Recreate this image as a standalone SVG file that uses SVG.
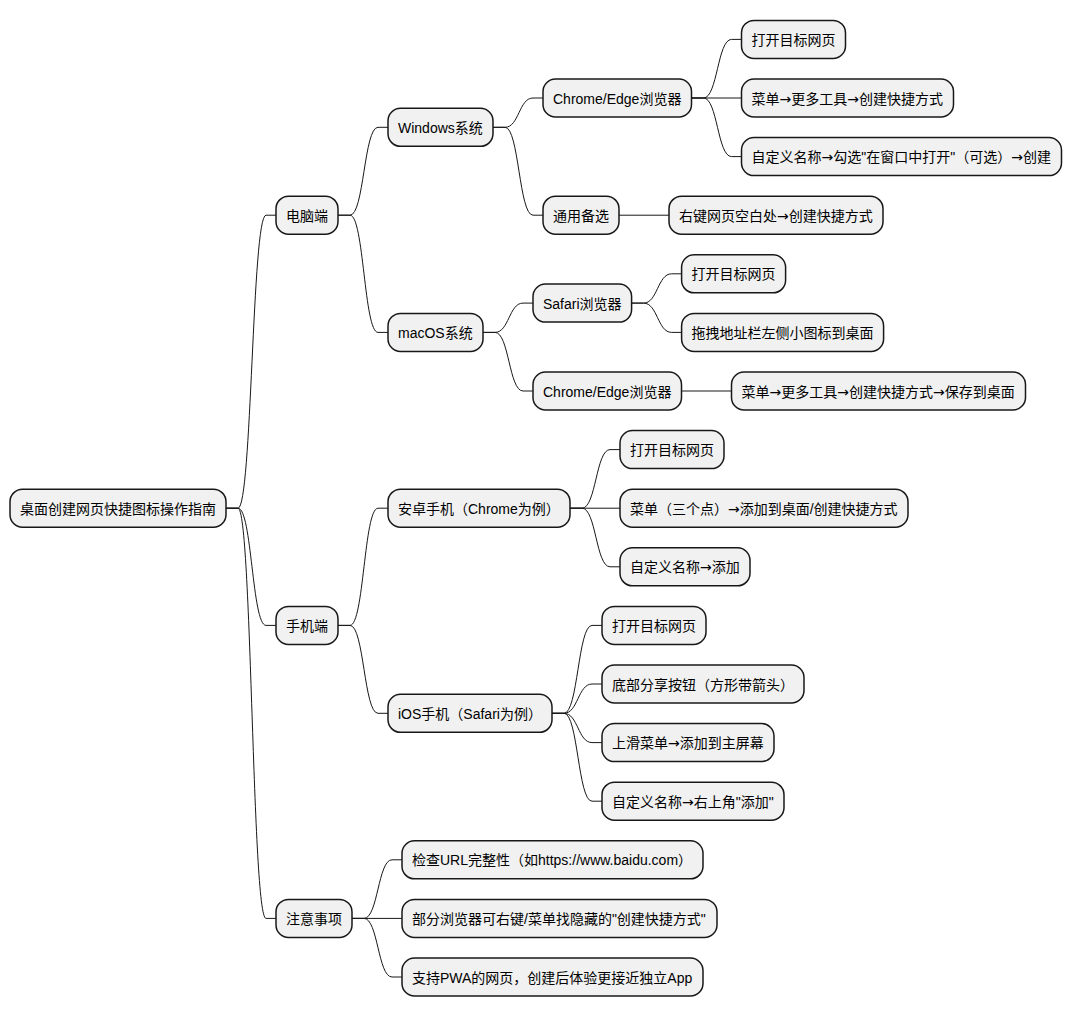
<svg xmlns="http://www.w3.org/2000/svg" width="1072" height="1017" viewBox="0 0 1072 1017">
<style>
.n rect{fill:#F1F1F1;stroke:#181818;stroke-width:1.5}
.n text{font-family:"Liberation Sans","Noto Sans CJK SC",sans-serif;font-size:14px;fill:#000}
.a{font-family:"DejaVu Sans",sans-serif}
#connectors path{fill:none;stroke:#181818;stroke-width:1}
</style>
<rect width="1072" height="1017" fill="#FFFFFF"/>
<g id="connectors">
<path d="M226,508.2 H238 C252,508.2 252,215.2 266,215.2 H276"/>
<path d="M226,508.2 H238 C252,508.2 252,625.4 266,625.4 H276"/>
<path d="M226,508.2 H238 C252,508.2 252,918.4 266,918.4 H276"/>
<path d="M338,215.2 H350 C364,215.2 364,127.3 378,127.3 H388"/>
<path d="M338,215.2 H350 C364,215.2 364,332.4 378,332.4 H388"/>
<path d="M338,625.4 H350 C364,625.4 364,508.2 378,508.2 H388"/>
<path d="M338,625.4 H350 C364,625.4 364,713.3 378,713.3 H388"/>
<path d="M352,918.4 H364 C378,918.4 378,859.8 392,859.8 H402"/>
<path d="M352,918.4 H402"/>
<path d="M352,918.4 H364 C378,918.4 378,977 392,977 H402"/>
<path d="M493,127.3 H505 C519,127.3 519,98 533,98 H543"/>
<path d="M493,127.3 H505 C519,127.3 519,215.2 533,215.2 H543"/>
<path d="M483,332.4 H495 C509,332.4 509,303.1 523,303.1 H533"/>
<path d="M483,332.4 H495 C509,332.4 509,391 523,391 H533"/>
<path d="M570,508.2 H582 C596,508.2 596,449.6 610,449.6 H620"/>
<path d="M570,508.2 H620"/>
<path d="M570,508.2 H582 C596,508.2 596,566.8 610,566.8 H620"/>
<path d="M552,713.3 H564 C578,713.3 578,625.4 592,625.4 H602"/>
<path d="M552,713.3 H564 C578,713.3 578,684 592,684 H602"/>
<path d="M552,713.3 H564 C578,713.3 578,742.6 592,742.6 H602"/>
<path d="M552,713.3 H564 C578,713.3 578,801.2 592,801.2 H602"/>
<path d="M691.5,98 H703.5 C717.5,98 717.5,39.4 731.5,39.4 H741.5"/>
<path d="M691.5,98 H741.5"/>
<path d="M691.5,98 H703.5 C717.5,98 717.5,156.6 731.5,156.6 H741.5"/>
<path d="M619,215.2 H669"/>
<path d="M631.6,303.1 H643.6 C657.6,303.1 657.6,273.8 671.6,273.8 H681.6"/>
<path d="M631.6,303.1 H643.6 C657.6,303.1 657.6,332.4 671.6,332.4 H681.6"/>
<path d="M681.5,391 H731.5"/>
</g>
<g id="root" class="n"><rect x="10" y="489.2" width="216" height="38" rx="12.5"/><text x="20" y="513.7">桌面创建网页快捷图标操作指南</text></g>
<g id="pc" class="n"><rect x="276" y="196.2" width="62" height="38" rx="12.5"/><text x="286" y="220.7">电脑端</text></g>
<g id="mobile" class="n"><rect x="276" y="606.4" width="62" height="38" rx="12.5"/><text x="286" y="630.9">手机端</text></g>
<g id="notes" class="n"><rect x="276" y="899.4" width="76" height="38" rx="12.5"/><text x="286" y="923.9">注意事项</text></g>
<g id="windows" class="n"><rect x="388" y="108.3" width="105" height="38" rx="12.5"/><text x="398" y="132.8">Windows系统</text></g>
<g id="macos" class="n"><rect x="388" y="313.4" width="95" height="38" rx="12.5"/><text x="398" y="337.9">macOS系统</text></g>
<g id="android" class="n"><rect x="388" y="489.2" width="182" height="38" rx="12.5"/><text x="398" y="513.7">安卓手机（Chrome为例）</text></g>
<g id="ios" class="n"><rect x="388" y="694.3" width="164" height="38" rx="12.5"/><text x="398" y="718.8">iOS手机（Safari为例）</text></g>
<g id="win-chrome" class="n"><rect x="543" y="79" width="148.5" height="38" rx="12.5"/><text x="553" y="103.5">Chrome/Edge浏览器</text></g>
<g id="win-general" class="n"><rect x="543" y="196.2" width="76" height="38" rx="12.5"/><text x="553" y="220.7">通用备选</text></g>
<g id="mac-safari" class="n"><rect x="533" y="284.1" width="98.6" height="38" rx="12.5"/><text x="543" y="308.6">Safari浏览器</text></g>
<g id="mac-chrome" class="n"><rect x="533" y="372" width="148.5" height="38" rx="12.5"/><text x="543" y="396.5">Chrome/Edge浏览器</text></g>
<g id="wc1" class="n"><rect x="741.5" y="20.4" width="104" height="38" rx="12.5"/><text x="751.5" y="44.9">打开目标网页</text></g>
<g id="wc2" class="n"><rect x="741.5" y="79" width="212" height="38" rx="12.5"/><text x="751.5" y="103.5">菜单<tspan class="a">→</tspan>更多工具<tspan class="a">→</tspan>创建快捷方式</text></g>
<g id="wc3" class="n"><rect x="741.5" y="137.6" width="320" height="38" rx="12.5"/><text x="751.5" y="162.1">自定义名称<tspan class="a">→</tspan>勾选"在窗口中打开"（可选）<tspan class="a">→</tspan>创建</text></g>
<g id="wg1" class="n"><rect x="669" y="196.2" width="214" height="38" rx="12.5"/><text x="679" y="220.7">右键网页空白处<tspan class="a">→</tspan>创建快捷方式</text></g>
<g id="ms1" class="n"><rect x="681.6" y="254.8" width="104" height="38" rx="12.5"/><text x="691.6" y="279.3">打开目标网页</text></g>
<g id="ms2" class="n"><rect x="681.6" y="313.4" width="202" height="38" rx="12.5"/><text x="691.6" y="337.9">拖拽地址栏左侧小图标到桌面</text></g>
<g id="mc1" class="n"><rect x="731.5" y="372" width="294" height="38" rx="12.5"/><text x="741.5" y="396.5">菜单<tspan class="a">→</tspan>更多工具<tspan class="a">→</tspan>创建快捷方式<tspan class="a">→</tspan>保存到桌面</text></g>
<g id="an1" class="n"><rect x="620" y="430.6" width="104" height="38" rx="12.5"/><text x="630" y="455.1">打开目标网页</text></g>
<g id="an2" class="n"><rect x="620" y="489.2" width="288" height="38" rx="12.5"/><text x="630" y="513.7">菜单（三个点）<tspan class="a">→</tspan>添加到桌面/创建快捷方式</text></g>
<g id="an3" class="n"><rect x="620" y="547.8" width="130" height="38" rx="12.5"/><text x="630" y="572.3">自定义名称<tspan class="a">→</tspan>添加</text></g>
<g id="io1" class="n"><rect x="602" y="606.4" width="104" height="38" rx="12.5"/><text x="612" y="630.9">打开目标网页</text></g>
<g id="io2" class="n"><rect x="602" y="665" width="202" height="38" rx="12.5"/><text x="612" y="689.5">底部分享按钮（方形带箭头）</text></g>
<g id="io3" class="n"><rect x="602" y="723.6" width="172" height="38" rx="12.5"/><text x="612" y="748.1">上滑菜单<tspan class="a">→</tspan>添加到主屏幕</text></g>
<g id="io4" class="n"><rect x="602" y="782.2" width="182" height="38" rx="12.5"/><text x="612" y="806.7">自定义名称<tspan class="a">→</tspan>右上角"添加"</text></g>
<g id="nt1" class="n"><rect x="402" y="840.8" width="301" height="38" rx="12.5"/><text x="412" y="865.3">检查URL完整性（如https://www.baidu.com）</text></g>
<g id="nt2" class="n"><rect x="402" y="899.4" width="315" height="38" rx="12.5"/><text x="412" y="923.9">部分浏览器可右键/菜单找隐藏的"创建快捷方式"</text></g>
<g id="nt3" class="n"><rect x="402" y="958" width="301" height="38" rx="12.5"/><text x="412" y="982.5">支持PWA的网页，创建后体验更接近独立App</text></g>
</svg>
